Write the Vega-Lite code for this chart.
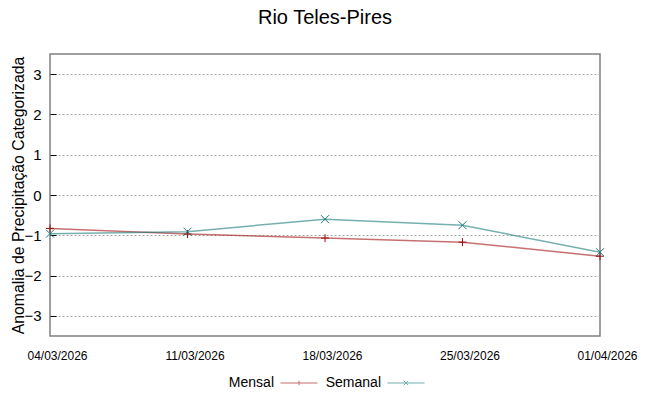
{
  "$schema": "https://vega.github.io/schema/vega-lite/v6.json",
  "width": 550,
  "height": 282,
  "autosize": {"type": "none"},
  "padding": {"left": 50, "top": 54, "right": 48, "bottom": 60},
  "background": "white",
  "title": {"text": "Rio Teles-Pires", "fontSize": 20, "font": "Liberation Sans", "fontWeight": "normal", "color": "#000000", "anchor": "middle", "offset": 26},
  "config": {
    "view": {"stroke": "#808080", "strokeWidth": 1.5},
    "font": "Liberation Sans"
  },
  "data": {
    "values": [
      {"data": "04/03/2026", "serie": "Mensal", "valor": -0.83},
      {"data": "11/03/2026", "serie": "Mensal", "valor": -0.97},
      {"data": "18/03/2026", "serie": "Mensal", "valor": -1.07},
      {"data": "25/03/2026", "serie": "Mensal", "valor": -1.17},
      {"data": "01/04/2026", "serie": "Mensal", "valor": -1.52},
      {"data": "04/03/2026", "serie": "Semanal", "valor": -0.96},
      {"data": "11/03/2026", "serie": "Semanal", "valor": -0.91},
      {"data": "18/03/2026", "serie": "Semanal", "valor": -0.60},
      {"data": "25/03/2026", "serie": "Semanal", "valor": -0.75},
      {"data": "01/04/2026", "serie": "Semanal", "valor": -1.42}
    ]
  },
  "encoding": {
    "x": {
      "field": "data", "type": "ordinal", "sort": null,
      "scale": {"type": "point", "padding": 0},
      "axis": {"title": null, "labelAngle": 0, "labelFontSize": 12, "labelColor": "#000000", "ticks": false, "domain": false, "labelPadding": 14, "labelOffset": 7, "grid": false}
    },
    "y": {
      "field": "valor", "type": "quantitative",
      "scale": {"domain": [-3.5, 3.5], "nice": false, "zero": false},
      "axis": {
        "title": "Anomalia de Precipitação Categorizada", "titleFontSize": 15.8, "titleFontWeight": "normal", "titleColor": "#000000", "titlePadding": -3,
        "values": [-3, -2, -1, 0, 1, 2, 3], "format": "d",
        "labelFontSize": 15, "labelColor": "#000000", "labelPadding": 15,
        "domain": false, "ticks": true, "tickSize": -6, "tickColor": "#000000", "tickWidth": 1,
        "grid": true, "gridColor": "#a8a8a8", "gridDash": [2, 2], "gridWidth": 1
      }
    },
    "color": {
      "field": "serie", "type": "nominal",
      "scale": {"domain": ["Mensal", "Semanal"], "range": ["#a01010", "#1a7a7a"]},
      "legend": {
        "orient": "none", "legendX": 230, "legendY": 310, "direction": "horizontal", "title": null,
        "labelFontSize": 14, "labelColor": "#000000", "labelAlign": "right", "labelOffset": -44,
        "symbolSize": 1369, "symbolStrokeWidth": 1, "symbolFillColor": "transparent", "padding": 0, "columnPadding": 5,
        "symbolType": {"expr": "datum.value === 'Semanal' ? 'M-1,0H1M-0.12,-0.12L0.12,0.12M-0.12,0.12L0.12,-0.12' : 'M-1,0H1M0,-0.12V0.12'"}
      }
    }
  },
  "layer": [
    {"mark": {"type": "line", "strokeWidth": 1.5, "opacity": 0.6}},
    {
      "transform": [{"filter": "datum.serie === 'Mensal'"}],
      "mark": {"type": "point", "filled": false, "size": 64, "strokeWidth": 1, "opacity": 1, "shape": "M0,-1V1M-1,0H1"}
    },
    {
      "transform": [{"filter": "datum.serie === 'Semanal'"}],
      "mark": {"type": "point", "filled": false, "size": 64, "strokeWidth": 1, "opacity": 1, "shape": "M-1,-1L1,1M-1,1L1,-1"}
    }
  ]
}
